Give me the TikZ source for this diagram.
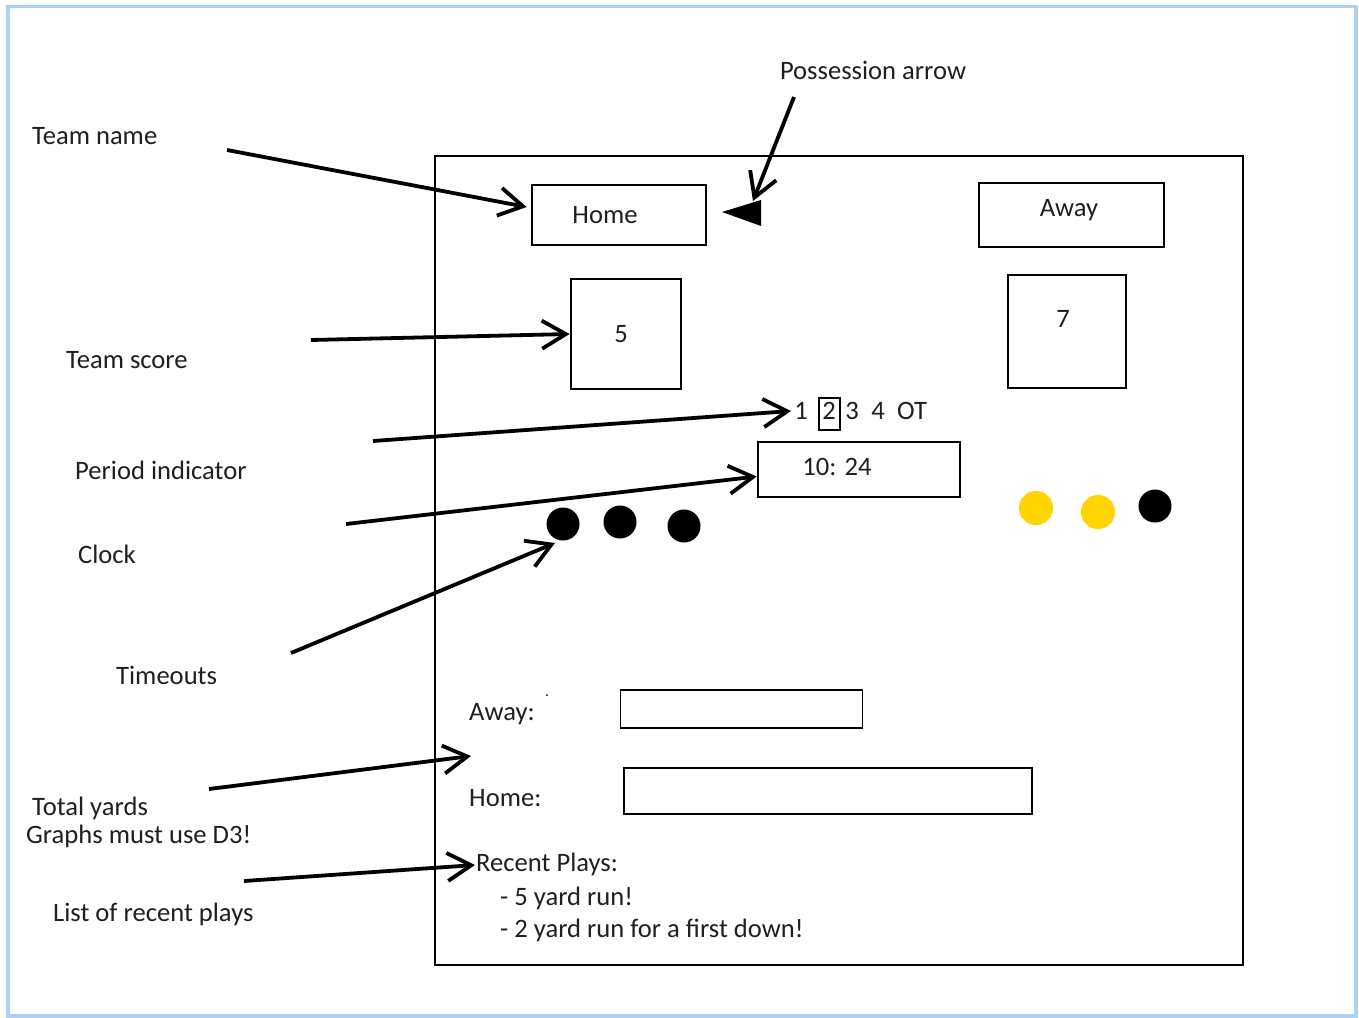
\documentclass[tikz,border=0pt]{standalone}
\usepackage{fontspec}
\setmainfont{Carlito}
\usetikzlibrary{arrows.meta}
\definecolor{framecol}{HTML}{AED0F2}
\definecolor{tyellow}{HTML}{FFD400}
\begin{document}
\begin{tikzpicture}[x=1pt,y=-1pt,
  every node/.style={font=\fontsize{26.6}{32}\selectfont, inner sep=0pt, text=black!88},
  lbl/.style={anchor=base west},
  box/.style={draw, line width=2.6pt, rectangle, inner sep=0pt},
  thin box/.style={draw, line width=1.6pt, rectangle, inner sep=0pt},
  callout/.style={line width=3.8pt, -{Straight Barb[length=24pt,width=28pt,line width=3.8pt]}},
  dot/.style={circle, fill=black, minimum size=33pt, inner sep=0pt},
  ydot/.style={circle, fill=tyellow, minimum size=34pt, inner sep=0pt}]
\useasboundingbox (0,0) rectangle (1359,1017);
% outer light-blue frame
\draw[framecol, line width=3.5pt] (8,6.5) rectangle (1356,1016);
% main panel
\draw[line width=2.8pt] (435,156) rectangle (1243,965);

% team name boxes
\node[box, minimum width=174pt, minimum height=60pt] (home) at (619,215) {};
\node at (605,215) {Home};
\node[box, minimum width=185pt, minimum height=64pt] (away) at (1071.5,215) {};
\node at (1069,210) {Away};

% possession arrow (triangle)
\fill (722,212) -- (761,200) -- (761,226) -- cycle;
\coordinate (poss) at (753,201);

% score boxes
\node[box, minimum width=110pt, minimum height=110pt] (hscore) at (626,334) {};
\node at (621,334) {5};
\node[box, minimum width=118pt, minimum height=113pt] (ascore) at (1067,331.5) {};
\node at (1063,319) {7};

% period indicator
\node (p1) at (801,411) {1};
\node[draw, line width=1.3pt, minimum width=21pt, minimum height=32pt] (p2) at (829.5,414) {};
\node at (829,411) {2};
\node at (852,411) {3};
\node at (878,411) {4};
\node at (912,411) {OT};

% clock
\node[box, minimum width=202pt, minimum height=55pt] (clock) at (859,469.5) {};
\node at (837,467) {10: 24};

% timeouts
\node[dot] (t1) at (563,524) {};
\node[dot] (t2) at (620,522) {};
\node[dot] (t3) at (684,526) {};
\node[ydot] (u1) at (1036,508) {};
\node[ydot] (u2) at (1098,512) {};
\node[dot] (u3) at (1155,506) {};

% total yards
\node[lbl] (awaylbl) at (469,720) {Away:};
\fill (547,695) circle (1pt);
\node[thin box, minimum width=242pt, minimum height=38pt] (awaybar) at (741.5,709) {};
\node[lbl] (homelbl) at (469,806) {Home:};
\node[thin box, minimum width=408pt, minimum height=46pt] (homebar) at (828,791) {};

% recent plays
\node[lbl] (recent) at (476,871) {Recent Plays:};
\node[lbl] at (500,905) {- 5 yard run!};
\node[lbl] at (500,937) {- 2 yard run for a first down!};

% annotation labels
\node (posslbl) at (873,70) {Possession arrow};
\node[lbl] (tn) at (32,144) {Team name};
\node[lbl] (ts) at (66,368) {Team score};
\node[lbl] (pi) at (75,479) {Period indicator};
\node[lbl] (cl) at (78,563) {Clock};
\node[lbl] (to) at (116,684) {Timeouts};
\node[lbl] (ty) at (32,815) {Total yards};
\node[lbl] (d3) at (26,843) {Graphs must use D3!};
\node[lbl] (lr) at (53,921) {List of recent plays};

% callout start / end coordinates
\coordinate (s1) at (227,150);
\coordinate (s2) at (311,340);
\coordinate (s3) at (373,441);
\coordinate (s4) at (346,524);
\coordinate (s5) at (291,653);
\coordinate (s6) at (209,789);
\coordinate (s7) at (244,881);
\coordinate (s0) at (794,97);
\coordinate (e3) at (791,411);
\coordinate (e5) at (555,543);
\coordinate (e6) at (471,756);
\coordinate (e7) at (475,865);

\draw[callout] (s0) -- (poss);
\draw[callout] (s1) -- ([xshift=-4pt,yshift=8pt]home.west);
\draw[callout] (s2) -- (hscore.west);
\draw[callout] (s3) -- (e3);
\draw[callout] (s4) -- ([yshift=-7pt]clock.west);
\draw[callout] (s5) -- (e5);
\draw[callout] (s6) -- (e6);
\draw[callout] (s7) -- (e7);
\end{tikzpicture}
\end{document}
